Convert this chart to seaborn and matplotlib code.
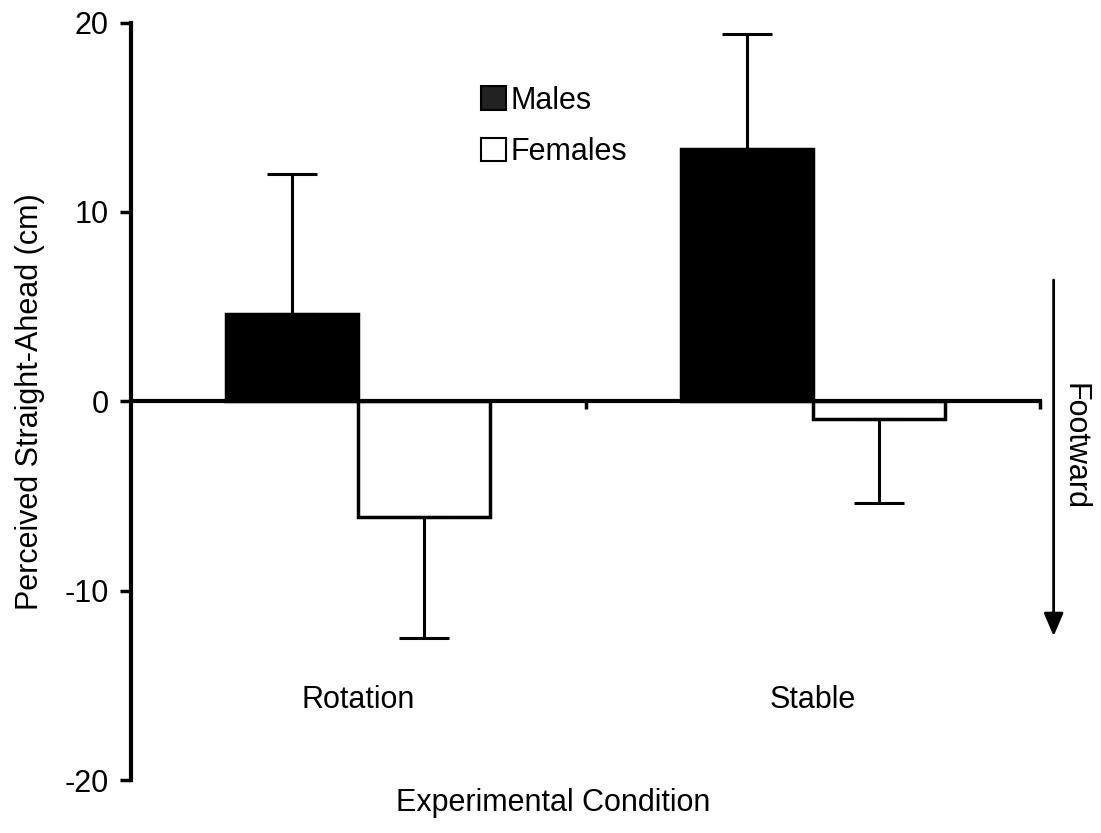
import matplotlib
matplotlib.use("Agg")
import matplotlib.pyplot as plt
import seaborn as sns
import pandas as pd
import numpy as np
from matplotlib.patches import Patch

conditions = ["Rotation", "Stable"]
groups = ["Males", "Females"]
males_mean = [4.6, 13.3]
females_mean = [-6.1, -0.95]
males_err = [7.4, 6.1]
females_err = [6.4, 4.4]
yticks = [-20, -10, 0, 10, 20]

df = pd.DataFrame({
    "Condition": conditions * 2,
    "Sex": ["Males"] * 2 + ["Females"] * 2,
    "Value": males_mean + females_mean,
})

sns.set_style("white")
plt.rcParams["font.family"] = ["Liberation Sans", "DejaVu Sans"]
plt.rcParams["text.color"] = "black"
plt.rcParams["axes.labelcolor"] = "black"
plt.rcParams["xtick.color"] = "black"
plt.rcParams["ytick.color"] = "black"
plt.rcParams["axes.edgecolor"] = "black"
FS = 22

fig = plt.figure(figsize=(11.01, 8.33), dpi=100)
ax = fig.add_axes([131 / 1101, 1 - 780 / 833, (1040 - 131) / 1101, (780 - 22.5) / 833])

sns.barplot(data=df, x="Condition", y="Value", hue="Sex", order=conditions,
            hue_order=groups, palette={"Males": "black", "Females": "white"},
            edgecolor="black", linewidth=2.5, width=0.58, errorbar=None,
            saturation=1, ax=ax, legend=False)

# one-sided error bars (away from zero)
bars = ax.patches[:4]
xs = [b.get_x() + b.get_width() / 2 for b in bars]
vals = males_mean + females_mean
errs = males_err + females_err
lower = [0 if v >= 0 else e for v, e in zip(vals, errs)]
upper = [e if v >= 0 else 0 for v, e in zip(vals, errs)]
ax.errorbar(xs, vals, yerr=[lower, upper], fmt="none", ecolor="black",
            elinewidth=2.2, capsize=18, capthick=2.2, zorder=1)

ax.set_xlim(-0.5, 1.5)
ax.set_ylim(-20, 20)
ax.set_yticks(yticks)
ax.set_yticklabels([str(t) for t in yticks], fontsize=FS)

for s in ["top", "right"]:
    ax.spines[s].set_visible(False)
ax.spines["left"].set_linewidth(3)
ax.spines["bottom"].set_linewidth(3)
ax.spines["bottom"].set_position(("data", 0))
ax.spines["bottom"].set_zorder(3)

ax.tick_params(axis="y", which="major", left=True, direction="out", length=8,
               width=2.5, pad=8, colors="black")
ax.set_xticks([0.5, 1.5])
ax.set_xticklabels(["", ""])
ax.tick_params(axis="x", which="major", bottom=True, direction="out", length=6,
               width=2.5, colors="black")
ax.set_xticks([0, 1], minor=True)
ax.set_xticklabels(conditions, minor=True, fontsize=FS)
ax.tick_params(axis="x", which="minor", bottom=True, length=0, pad=204)

ax.set_xlabel("Experimental Condition", fontsize=FS)
ax.xaxis.set_label_coords(0.465, -0.01)
ax.set_ylabel("Perceived Straight-Ahead (cm)", fontsize=FS)
ax.yaxis.set_label_coords(-0.095, 0.5)

# legend
handles = [Patch(facecolor="#222222", edgecolor="black", linewidth=1.5),
           Patch(facecolor="white", edgecolor="black", linewidth=1.5)]
leg = ax.legend(handles, groups, loc="upper left", bbox_to_anchor=(0.355, 0.953),
                frameon=False, fontsize=FS, handlelength=0.8, handleheight=0.8,
                handletextpad=0.15, labelspacing=0.7)

# Footward arrow
ax.annotate("", xy=(1.530, -12.4), xytext=(1.530, 6.4), xycoords="data",
            annotation_clip=False,
            arrowprops=dict(arrowstyle="-|>,head_length=1.4,head_width=0.6",
                            color="black", lw=2, shrinkA=0, shrinkB=0))
ax.text(1.576, -2.4, "Footward", rotation=270, ha="center", va="center",
        fontsize=FS, clip_on=False)

fig.savefig("out.png", dpi=100)
